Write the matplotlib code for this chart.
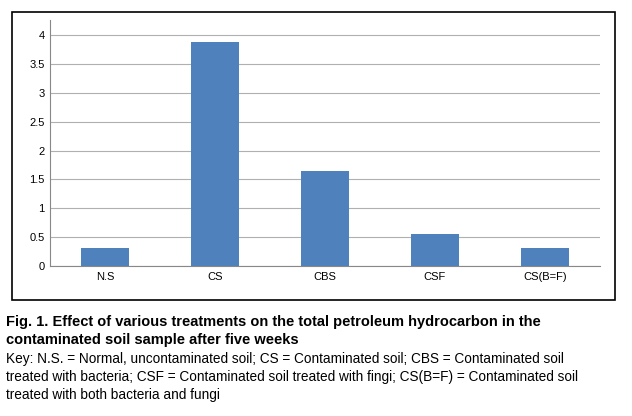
import matplotlib
matplotlib.use("Agg")
import matplotlib.pyplot as plt
from matplotlib.patches import Rectangle

categories = ["N.S", "CS", "CBS", "CSF", "CS(B=F)"]
values = [0.32, 3.88, 1.64, 0.56, 0.32]
yticks = [0, 0.5, 1, 1.5, 2, 2.5, 3, 3.5, 4]

plt.rcParams["font.family"] = "Liberation Sans"

fig = plt.figure(figsize=(6.32, 4.16), dpi=100)
fig.patches.append(Rectangle((12 / 632, 1 - 300 / 416), 603 / 632, 288 / 416,
                             transform=fig.transFigure, fill=False,
                             edgecolor="black", linewidth=1.2))

ax = fig.add_axes([50 / 632, 1 - 266 / 416, 550 / 632, 246 / 416])
ax.bar(range(len(categories)), values, width=0.43, color="#4F81BD", zorder=3)
ax.set_xlim(-0.5, len(categories) - 0.5)
ax.set_ylim(0, 4.26)
ax.set_yticks(yticks)
ax.set_yticklabels([f"{t:g}" for t in yticks], fontsize=8)
ax.set_xticks(range(len(categories)))
ax.set_xticklabels(categories, fontsize=8)
ax.yaxis.grid(True, color="#b0b0b0", linewidth=0.8, zorder=0)
for s in ["top", "right"]:
    ax.spines[s].set_visible(False)
ax.spines["left"].set_color("#888888")
ax.spines["bottom"].set_color("#888888")
ax.tick_params(length=0, pad=4)

fig.text(6 / 632, 1 - 331 / 416,
         "Fig. 1. Effect of various treatments on the total petroleum hydrocarbon in the\n"
         "contaminated soil sample after five weeks",
         fontsize=10.5, fontweight="bold", va="center", linespacing=1.3)
fig.text(6 / 632, 1 - 377 / 416,
         "Key: N.S. = Normal, uncontaminated soil; CS = Contaminated soil; CBS = Contaminated soil\n"
         "treated with bacteria; CSF = Contaminated soil treated with fingi; CS(B=F) = Contaminated soil\n"
         "treated with both bacteria and fungi",
         fontsize=9.8, va="center", linespacing=1.4)

fig.savefig("out.png", dpi=100, facecolor="white")
